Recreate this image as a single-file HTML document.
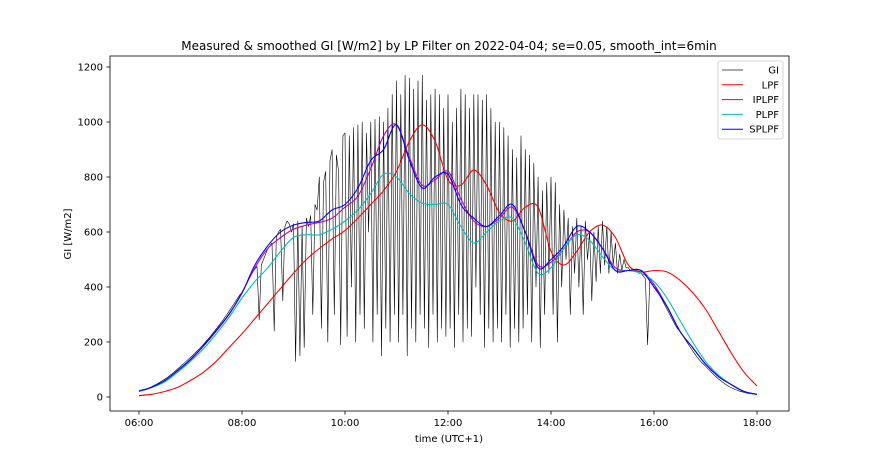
<!DOCTYPE html>
<html><head><meta charset="utf-8"><style>
html,body{margin:0;padding:0;background:#fff;}
svg{display:block;font-family:"DejaVu Sans","Liberation Sans",sans-serif;}
</style></head><body>
<svg id="chart" width="876" height="470" viewBox="0 0 876 470" xmlns="http://www.w3.org/2000/svg">
<rect x="0" y="0" width="876" height="470" fill="#fff"/>
<text x="449" y="50" font-size="12" text-anchor="middle">Measured &amp; smoothed GI [W/m2] by LP Filter on 2022-04-04; se=0.05, smooth_int=6min</text>
<g id="series"></g>
<g id="axes"></g>
<rect x="110" y="56" width="679" height="355" fill="none" stroke="#000" stroke-width="0.8"/>
<text x="449" y="442" font-size="10" text-anchor="middle">time (UTC+1)</text>
<text x="71" y="234" font-size="10" text-anchor="middle" transform="rotate(-90 71 234)">GI [W/m2]</text>
<g id="legend"></g>
</svg>
<script>
const xTicks=["06:00","08:00","10:00","12:00","14:00","16:00","18:00"];
const xTickHours=[0,2,4,6,8,10,12];
const yTicks=[0,200,400,600,800,1000,1200];
const gi=[20,22,25,28,31,34,38,42,46,50,55,60,
65,70,76,82,88,95,102,109,116,123,130,137,
144,151,159,167,175,183,191,200,209,218,228,238,
248,258,268,278,290,300,312,324,336,348,360,372,
380,395,410,425,440,455,465,475,280,480,500,520,
540,550,560,240,580,600,610,350,620,640,630,600,
630,130,640,150,620,180,650,620,660,300,700,680,
800,250,780,820,200,860,900,300,880,820,190,950,
960,220,950,400,980,200,990,300,1000,250,960,600,
1000,200,1010,300,1020,150,1000,250,1050,200,1100,300,
1150,200,1100,300,1170,150,1160,250,1120,200,1150,300,
1170,250,1080,180,1100,300,1120,200,1100,250,1050,220,
1100,250,1000,180,1050,300,1120,200,1100,250,1050,220,
1100,400,1100,300,1080,180,1100,250,1050,200,1000,250,
1000,200,980,300,950,180,900,250,870,200,950,250,
900,300,880,200,850,400,800,180,750,300,780,450,
800,300,780,200,700,400,680,500,650,300,620,450,
650,400,620,300,640,500,600,350,600,420,620,450,
640,480,620,450,600,480,560,450,520,460,500,470,
470,460,465,455,460,450,450,440,430,190,420,410,
410,395,380,365,350,335,320,305,290,275,260,248,
240,228,216,204,192,180,168,157,146,136,127,120,
112,104,96,88,80,73,66,60,54,48,43,38,
34,30,27,24,21,19,17,15,13,12,11,10,9];
const lpf=[5,10,20,35,60,90,130,180,230,285,340,395,450,500,540,575,605,650,700,750,820,930,990,930,790,770,825,770,670,640,690,690,530,480,530,600,625,580,480,455,460,455,425,380,320,240,160,90,40];
const iplpf=[20,35,60,95,135,185,240,300,380,470,540,580,610,625,635,650,690,730,830,950,990,870,770,790,820,720,640,620,650,690,600,480,490,540,600,600,540,470,460,460,410,330,240,180,120,75,45,20,10];
const plpf=[20,35,55,90,130,175,230,290,360,420,470,530,580,590,590,610,640,680,740,810,800,740,705,700,700,620,560,600,640,650,560,450,470,540,590,570,510,460,460,450,420,360,280,200,130,80,45,20,10];
const splpf=[22,36,60,96,137,186,242,302,378,480,550,600,625,635,640,680,700,760,860,900,990,860,760,800,810,700,650,620,660,700,600,470,500,550,620,600,540,460,460,460,400,330,240,180,120,75,45,20,10];
const NS="http://www.w3.org/2000/svg";
function X(h){return 139+h*51.5;}
function Y(v){return 397-v*0.275;}
const axes=document.getElementById('axes');
const series=document.getElementById('series');
const legend=document.getElementById('legend');
function mk(tag,attrs,parent){const e=document.createElementNS(NS,tag);for(const k in attrs)e.setAttribute(k,attrs[k]);parent.appendChild(e);return e;}
xTicks.forEach((t,i)=>{
 const x=X(xTickHours[i]);
 const l=mk('line',{x1:x,x2:x,y1:411,y2:414.5,stroke:'#000','stroke-width':0.8},axes);
 
 
 const tx=mk('text',{x:x,y:426,'font-size':10,'text-anchor':'middle'},axes);
 tx.textContent=t;
 
 
});
yTicks.forEach(v=>{
 const y=Y(v);
 const l=mk('line',{x1:106.5,x2:110,y1:y,y2:y,stroke:'#000','stroke-width':0.8},axes);
 
 
 const tx=mk('text',{x:103,y:y+3.5,'font-size':10,'text-anchor':'end'},axes);
 tx.textContent=v;
 
 
});
function rawLine(arr,step,color,w,name){
 const pts=arr.map((v,i)=>X(i*step).toFixed(1)+','+Y(v).toFixed(1)).join(' ');
 const p=mk('polyline',{points:pts,fill:'none',stroke:color,'stroke-width':w,'stroke-linejoin':'round'},series);
 
 
}
function smoothLine(arr,step,color,w,name){
 const P=arr.map((v,i)=>[X(i*step),Y(v)]);
 let d='M'+P[0][0].toFixed(1)+','+P[0][1].toFixed(1);
 for(let i=0;i<P.length-1;i++){
  const p0=P[Math.max(0,i-1)],p1=P[i],p2=P[i+1],p3=P[Math.min(P.length-1,i+2)];
  const c1=[p1[0]+(p2[0]-p0[0])/6,p1[1]+(p2[1]-p0[1])/6];
  const c2=[p2[0]-(p3[0]-p1[0])/6,p2[1]-(p3[1]-p1[1])/6];
  d+=' C'+c1[0].toFixed(1)+','+c1[1].toFixed(1)+' '+c2[0].toFixed(1)+','+c2[1].toFixed(1)+' '+p2[0].toFixed(1)+','+p2[1].toFixed(1);
 }
 const p=mk('path',{d:d,fill:'none',stroke:color,'stroke-width':w},series);
 
 
}
rawLine(gi,2.5/60,'#000',0.6,'gi-line');
smoothLine(lpf,0.25,'#ff0000',1.1,'lpf-line');
smoothLine(iplpf,0.25,'#bf00bf',1.1,'iplpf-line');
smoothLine(plpf,0.25,'#00bfbf',1.1,'plpf-line');
smoothLine(splpf,0.25,'#0000ff',1.1,'splpf-line');
const lr=mk('rect',{x:718,y:61,width:65,height:78,fill:'#fff',stroke:'#ccc','stroke-width':0.8,rx:2},legend);


const names=["GI","LPF","IPLPF","PLPF","SPLPF"];
const cols=["#555","#ff0000","#bf00bf","#00bfbf","#0000ff"];
names.forEach((n,i)=>{
 const y=70+i*14.8;
 const g=mk('g',{},legend);
 
 
 mk('line',{x1:722,x2:743,y1:y,y2:y,stroke:cols[i],'stroke-width':1},g);
 const t=mk('text',{x:779,y:y+3.5,'font-size':10,'text-anchor':'end'},g);
 t.textContent=n;
});
</script>
</body></html>
